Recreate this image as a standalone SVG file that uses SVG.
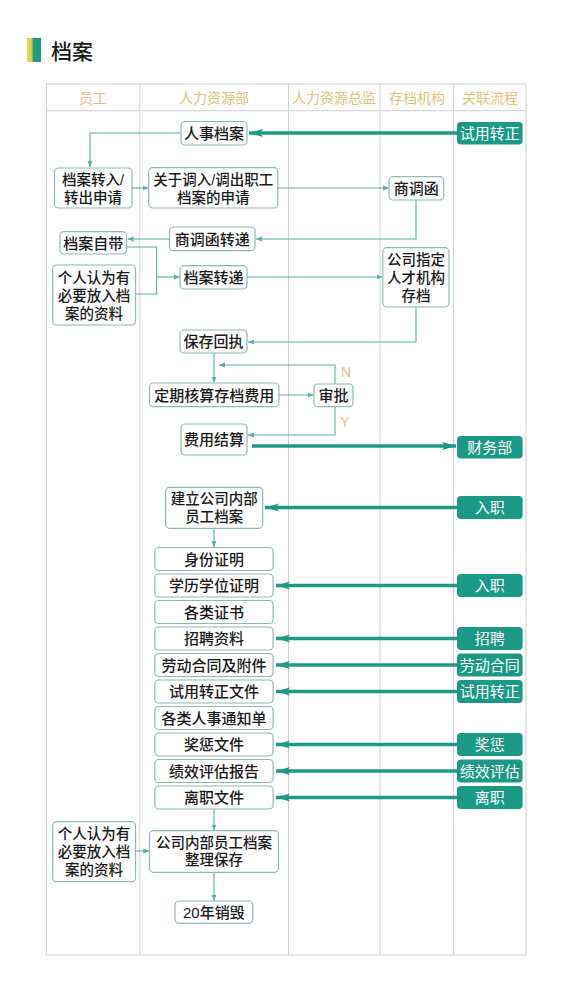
<svg xmlns="http://www.w3.org/2000/svg" width="562" height="1000" viewBox="0 0 562 1000">
<defs>
<linearGradient id="bar" x1="0" y1="0" x2="1" y2="0">
<stop offset="0" stop-color="#f2dc4a"/>
<stop offset="0.35" stop-color="#c9d04a"/>
<stop offset="0.45" stop-color="#1f9e86"/>
<stop offset="1" stop-color="#1a9680"/>
</linearGradient>
<marker id="ta" markerUnits="userSpaceOnUse" markerWidth="8" markerHeight="8" refX="6" refY="4" orient="auto">
<path d="M0,1.5 L6,4 L0,6.5 Z" fill="#5aaea3"/>
</marker>
<marker id="tk" markerUnits="userSpaceOnUse" markerWidth="16" markerHeight="12" refX="14" refY="6" orient="auto">
<path d="M0,2 L14,6 L0,10 L3,6 Z" fill="#1f9a87"/>
</marker>
</defs>
<style>
.t,.m{font-family:"Liberation Sans","Noto Sans CJK SC",sans-serif;font-size:15px;font-weight:500;fill:#1a1a1a;text-anchor:middle;dominant-baseline:central}
.m{font-size:14.5px}
.h{font-family:"Liberation Sans","Noto Sans CJK SC",sans-serif;font-size:14px;fill:#e6c07a;text-anchor:middle;dominant-baseline:central}
.w{font-family:"Liberation Sans","Noto Sans CJK SC",sans-serif;font-size:15px;fill:#ffffff;text-anchor:middle;dominant-baseline:central}
.yn{font-family:"Liberation Sans",sans-serif;font-size:14px;fill:#e6c07a;text-anchor:middle;dominant-baseline:central}
.b{fill:#ffffff;stroke:#8fb9b2;stroke-width:1.2}
.g{fill:#1a9a86;stroke:none}
.grid{stroke:#cfcfcf;stroke-width:1;fill:none}
.c{fill:none;stroke:#5aaea3;stroke-width:1.1;marker-end:url(#ta)}
.cn{fill:none;stroke:#5aaea3;stroke-width:1.1}
.k{fill:none;stroke:#1f9a87;stroke-width:3.5;marker-end:url(#tk)}
</style>
<rect x="0" y="0" width="562" height="1000" fill="#ffffff"/>
<g id="title">
<rect x="27" y="38" width="14" height="24" fill="url(#bar)"/>
<text x="51" y="51" style="font-family:'Liberation Sans','Noto Sans CJK SC',sans-serif;font-size:21px;font-weight:500;fill:#1a1a1a;dominant-baseline:central">档案</text>
</g>
<g id="table">
<rect class="grid" x="46.6" y="84" width="479.4" height="871"/>
<line class="grid" x1="46.6" y1="110.7" x2="526" y2="110.7"/>
<line class="grid" x1="139.8" y1="84" x2="139.8" y2="955"/>
<line class="grid" x1="288.5" y1="84" x2="288.5" y2="955"/>
<line class="grid" x1="380" y1="84" x2="380" y2="955"/>
<line class="grid" x1="453.4" y1="84" x2="453.4" y2="955"/>
<text class="h" x="93" y="98">员工</text>
<text class="h" x="214" y="98">人力资源部</text>
<text class="h" x="334" y="98">人力资源总监</text>
<text class="h" x="417" y="98">存档机构</text>
<text class="h" x="490" y="98">关联流程</text>
</g>
<g id="connectors">
<path class="k" d="M457,133 H249"/>
<path class="c" d="M181,133 H90 V167"/>
<path class="c" d="M132,188 H148.5"/>
<path class="c" d="M278,188 H389"/>
<path class="c" d="M416,200 V239 H256"/>
<path class="c" d="M169.5,239 H127.5"/>
<path class="cn" d="M126.5,247 H156.6 V294 H135.5"/>
<path class="c" d="M156.6,277 H180"/>
<path class="c" d="M247,277 H382.5"/>
<path class="c" d="M416,307 V342 H248"/>
<path class="c" d="M214,353 V382.5"/>
<path class="c" d="M335,384 V365 H219"/>
<path class="c" d="M279,395 H313.5"/>
<path class="c" d="M335,407 V435 H248"/>
<path class="k" d="M252,446 H456"/>
<path class="k" d="M457,507.5 H265"/>
<path class="c" d="M214,528.5 V547"/>
<path class="k" d="M457,585.5 H276"/>
<path class="k" d="M457,638.5 H276"/>
<path class="k" d="M457,665 H276"/>
<path class="k" d="M457,691.5 H276"/>
<path class="k" d="M457,744.5 H276"/>
<path class="k" d="M457,771 H276"/>
<path class="k" d="M457,797.5 H276"/>
<path class="c" d="M214,809 V830.5"/>
<path class="c" d="M135.5,851 H149.3"/>
<path class="c" d="M214,872.5 V900.8"/>
<text class="yn" x="346" y="372">N</text>
<text class="yn" x="345" y="422">Y</text>
</g>
<g id="n-rsda"><rect class="b" x="181" y="121.5" width="66" height="23.5" rx="4"/><text class="t" x="214" y="133">人事档案</text></g>
<g id="n-sy1"><rect class="g" x="457" y="122" width="65.6" height="22.5" rx="4"/><text class="w" x="489.8" y="133">试用转正</text></g>
<g id="n-zr"><rect class="b" x="54.5" y="168" width="77.5" height="40" rx="4"/><text class="m" x="93"><tspan x="93" y="180">档案转入/</tspan><tspan x="93" y="197.5">转出申请</tspan></text></g>
<g id="n-gy"><rect class="b" x="148.7" y="167.7" width="129.1" height="40.3" rx="4"/><text class="m" x="213.2"><tspan x="213.2" y="180">关于调入/调出职工</tspan><tspan x="213.2" y="197.5">档案的申请</tspan></text></g>
<g id="n-sdh"><rect class="b" x="389" y="176.7" width="54.7" height="23.3" rx="4"/><text class="t" x="416.3" y="188.3">商调函</text></g>
<g id="n-sdhzd"><rect class="b" x="169.5" y="227" width="85.5" height="23.7" rx="4"/><text class="t" x="212.2" y="239">商调函转递</text></g>
<g id="n-zd"><rect class="b" x="60" y="231.7" width="66.5" height="22.3" rx="4"/><text class="t" x="93.2" y="243">档案自带</text></g>
<g id="n-gr1"><rect class="b" x="52.7" y="265" width="82.8" height="60" rx="4"/><text class="m" x="94"><tspan x="94" y="277.5">个人认为有</tspan><tspan x="94" y="295.5">必要放入档</tspan><tspan x="94" y="313.5">案的资料</tspan></text></g>
<g id="n-dazd"><rect class="b" x="180" y="265.7" width="67" height="23.3" rx="4"/><text class="t" x="213.5" y="277.3">档案转递</text></g>
<g id="n-gszd"><rect class="b" x="382.8" y="247.7" width="66.2" height="59.3" rx="4"/><text class="m" x="416"><tspan x="416" y="259.5">公司指定</tspan><tspan x="416" y="277.5">人才机构</tspan><tspan x="416" y="295.5">存档</tspan></text></g>
<g id="n-bchz"><rect class="b" x="180" y="330" width="67" height="23" rx="4"/><text class="t" x="213.5" y="341.5">保存回执</text></g>
<g id="n-dqhs"><rect class="b" x="149.5" y="383" width="129.4" height="23.7" rx="4"/><text class="t" x="214.2" y="395">定期核算存档费用</text></g>
<g id="n-sp"><rect class="b" x="314" y="384" width="39" height="22.7" rx="4"/><text class="t" x="333.5" y="395.3">审批</text></g>
<g id="n-fyjs"><rect class="b" x="181" y="424" width="66" height="31" rx="4"/><text class="t" x="214" y="439.5">费用结算</text></g>
<g id="n-cwb"><rect class="g" x="457" y="436" width="65.6" height="22.5" rx="4"/><text class="w" x="489.8" y="447">财务部</text></g>
<g id="n-jl"><rect class="b" x="165.6" y="487.3" width="97.1" height="41" rx="4"/><text class="m" x="214.2"><tspan x="214.2" y="499">建立公司内部</tspan><tspan x="214.2" y="516.8">员工档案</tspan></text></g>
<g id="n-rz1"><rect class="g" x="457" y="496" width="65.6" height="23" rx="4"/><text class="w" x="489.8" y="507.5">入职</text></g>
<g id="n-sfzm"><rect class="b" x="154.8" y="547.5" width="118.3" height="23" rx="4"/><text class="t" x="214" y="559">身份证明</text></g>
<g id="n-xlxw"><rect class="b" x="154.8" y="574" width="118.3" height="23" rx="4"/><text class="t" x="214" y="585.5">学历学位证明</text></g>
<g id="n-glzs"><rect class="b" x="154.8" y="600.5" width="118.3" height="23" rx="4"/><text class="t" x="214" y="612">各类证书</text></g>
<g id="n-zpzl"><rect class="b" x="154.8" y="627" width="118.3" height="23" rx="4"/><text class="t" x="214" y="638.5">招聘资料</text></g>
<g id="n-ldht"><rect class="b" x="154.8" y="653.5" width="118.3" height="23" rx="4"/><text class="t" x="214" y="665">劳动合同及附件</text></g>
<g id="n-syzz"><rect class="b" x="154.8" y="680" width="118.3" height="23" rx="4"/><text class="t" x="214" y="691.5">试用转正文件</text></g>
<g id="n-rstz"><rect class="b" x="154.8" y="706.5" width="118.3" height="23" rx="4"/><text class="t" x="214" y="718">各类人事通知单</text></g>
<g id="n-jcwj"><rect class="b" x="154.8" y="733" width="118.3" height="23" rx="4"/><text class="t" x="214" y="744.5">奖惩文件</text></g>
<g id="n-jxpg"><rect class="b" x="154.8" y="759.5" width="118.3" height="23" rx="4"/><text class="t" x="214" y="771">绩效评估报告</text></g>
<g id="n-lzwj"><rect class="b" x="154.8" y="786" width="118.3" height="23" rx="4"/><text class="t" x="214" y="797.5">离职文件</text></g>
<g id="n-rz2"><rect class="g" x="457" y="574" width="65.6" height="23" rx="4"/><text class="w" x="489.8" y="585.5">入职</text></g>
<g id="n-zp"><rect class="g" x="457" y="627" width="65.6" height="23" rx="4"/><text class="w" x="489.8" y="638.5">招聘</text></g>
<g id="n-ld"><rect class="g" x="457" y="653.5" width="65.6" height="23" rx="4"/><text class="w" x="489.8" y="665">劳动合同</text></g>
<g id="n-sy2"><rect class="g" x="457" y="680" width="65.6" height="23" rx="4"/><text class="w" x="489.8" y="691.5">试用转正</text></g>
<g id="n-jc"><rect class="g" x="457" y="733" width="65.6" height="23" rx="4"/><text class="w" x="489.8" y="744.5">奖惩</text></g>
<g id="n-jx"><rect class="g" x="457" y="759.5" width="65.6" height="23" rx="4"/><text class="w" x="489.8" y="771">绩效评估</text></g>
<g id="n-lz"><rect class="g" x="457" y="786" width="65.6" height="23" rx="4"/><text class="w" x="489.8" y="797.5">离职</text></g>
<g id="n-gr2"><rect class="b" x="52.7" y="821.7" width="82.8" height="60" rx="4"/><text class="m" x="94"><tspan x="94" y="834">个人认为有</tspan><tspan x="94" y="852">必要放入档</tspan><tspan x="94" y="870">案的资料</tspan></text></g>
<g id="n-zlbc"><rect class="b" x="149.5" y="830.7" width="129" height="41.6" rx="4"/><text class="m" x="214"><tspan x="214" y="842.5">公司内部员工档案</tspan><tspan x="214" y="860.3">整理保存</tspan></text></g>
<g id="n-xh"><rect class="b" x="175" y="901" width="77.7" height="22.3" rx="4"/><text class="t" x="213.8" y="912">20年销毁</text></g>
</svg>
